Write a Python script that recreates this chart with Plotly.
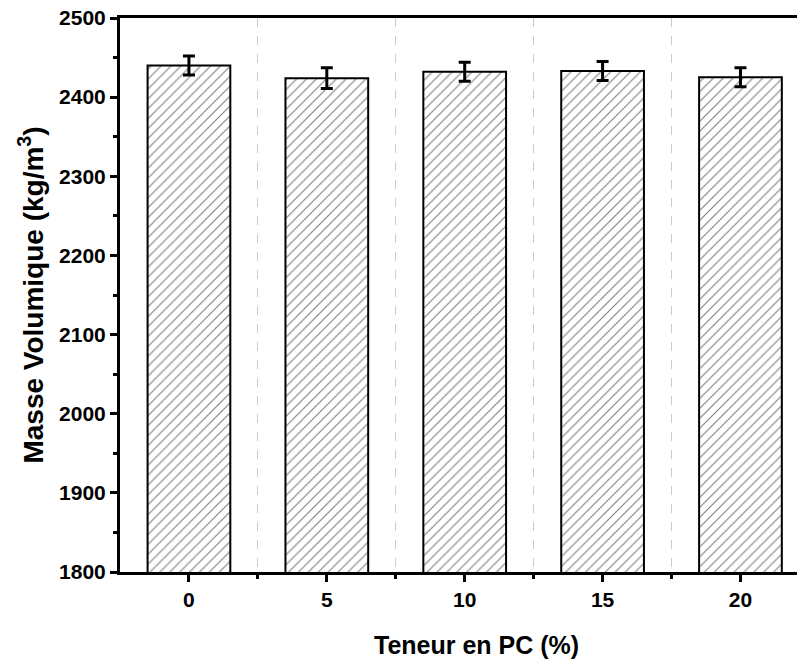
import plotly.graph_objects as go

categories = ["0", "5", "10", "15", "20"]
values = [2440, 2424, 2432, 2433, 2425]
errors = [12, 13, 12, 12, 12]
yticks = [1800, 1900, 2000, 2100, 2200, 2300, 2400, 2500]

xpos = list(range(len(categories)))

fig = go.Figure()
fig.add_trace(go.Bar(
    x=xpos, y=values, width=0.6,
    marker=dict(color="white", line=dict(color="black", width=2),
                pattern=dict(shape="/", size=7, solidity=0.16, fgcolor="#000000", bgcolor="white")),
    error_y=dict(type="data", array=errors, visible=True, color="black", thickness=3, width=6),
))

font = "Arial, Liberation Sans, sans-serif"
fig.update_layout(
    width=797, height=663,
    margin=dict(l=120, r=0, t=18, b=91),
    plot_bgcolor="white", paper_bgcolor="white",
    showlegend=False,
    font=dict(family=font, color="black", size=16),
    xaxis=dict(
        range=[-0.5, 4.41], tickvals=xpos, ticktext=categories,
        showline=True, linecolor="black", linewidth=3, mirror=True,
        ticks="outside", ticklen=7, tickwidth=3, tickcolor="black",
        tickfont=dict(size=21, family=font, weight="bold"),
        showgrid=False, zeroline=False,
        minor=dict(tickvals=[0.5, 1.5, 2.5, 3.5], showgrid=True, gridcolor="#cccccc",
                   griddash="dash", gridwidth=1, ticks="outside", ticklen=4, tickwidth=3, tickcolor="black"),
    ),
    yaxis=dict(
        range=[1800, 2500], tickvals=yticks,
        showline=True, linecolor="black", linewidth=3, mirror=False,
        ticks="outside", ticklen=7, tickwidth=3, tickcolor="black",
        tickfont=dict(size=21, family=font, weight="bold"),
        showgrid=False, zeroline=False,
        minor=dict(dtick=50, ticks="outside", ticklen=4, tickwidth=3, tickcolor="black", showgrid=False),
        title=dict(text="Masse Volumique (kg/m<sup>3</sup>)", font=dict(size=28, family=font, weight="bold"), standoff=8),
    ),
    annotations=[dict(
        text="<b>Teneur en PC (%)</b>", xref="paper", yref="paper",
        x=0.527, y=-0.132, xanchor="center", yanchor="middle", showarrow=False,
        font=dict(size=25, family=font, color="black"),
    )],
)

fig.write_html("out.html")
